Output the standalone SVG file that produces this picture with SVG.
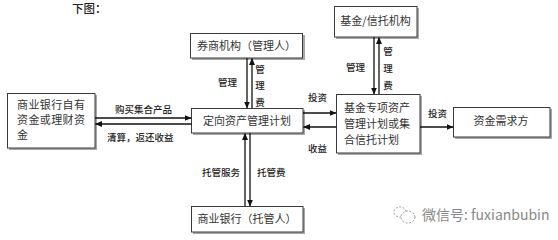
<svg xmlns="http://www.w3.org/2000/svg" width="558" height="240" viewBox="0 0 558 240">
<defs>
<style>
.sh{fill:#a8a8a8;}
.bx{fill:#fff;stroke:#3a3a3a;stroke-width:1;}
.t{font-family:"Noto Sans CJK SC","Liberation Sans",sans-serif;font-size:11px;fill:#333;}
.l{font-family:"Noto Sans CJK SC","Liberation Sans",sans-serif;font-size:9.5px;fill:#222;font-weight:500;}
.ln{stroke:#111;stroke-width:1.3;fill:none;marker-end:url(#ah);}
</style>
<marker id="ah" markerWidth="7" markerHeight="6" refX="6.5" refY="3" orient="auto" markerUnits="userSpaceOnUse">
<path d="M0,0 L7,3 L0,6 Z" fill="#111"/>
</marker>
</defs>
<rect width="558" height="240" fill="#fff"/>
<text x="72" y="13" font-family="Noto Sans CJK SC,sans-serif" font-size="11.5" font-weight="500" fill="#222">下图：</text>

<g id="node-broker">
<rect class="sh" x="192" y="35" width="113" height="25"/>
<rect class="bx" x="190.5" y="33.5" width="112" height="24.5"/>
<text class="t" x="246.5" y="50" text-anchor="middle">券商机构（管理人）</text>
</g>
<g id="node-fund-trust">
<rect class="sh" x="336" y="8" width="83" height="31"/>
<rect class="bx" x="334.5" y="6.5" width="82.5" height="30.5"/>
<text class="t" x="375.5" y="25" text-anchor="middle">基金/信托机构</text>
</g>
<g id="node-bank-funds">
<rect class="sh" x="9" y="95" width="88" height="55"/>
<rect class="bx" x="7.5" y="93.5" width="87.5" height="54.5"/>
<text class="t" x="17" y="109" letter-spacing="0.4">商业银行自有</text>
<text class="t" x="17" y="124" letter-spacing="0.4">资金或理财资</text>
<text class="t" x="17" y="139">金</text>
</g>
<g id="node-directed-plan">
<rect class="sh" x="193" y="110" width="112" height="25"/>
<rect class="bx" x="191.5" y="108.5" width="111.5" height="24.5"/>
<text class="t" x="247" y="125" text-anchor="middle">定向资产管理计划</text>
</g>
<g id="node-special-plan">
<rect class="sh" x="338" y="96" width="84" height="59"/>
<rect class="bx" x="336.5" y="94.5" width="83.5" height="58.5"/>
<text class="t" x="344" y="112">基金专项资产</text>
<text class="t" x="344" y="128">管理计划或集</text>
<text class="t" x="344" y="144">合信托计划</text>
</g>
<g id="node-demand">
<rect class="sh" x="455" y="109" width="97" height="30"/>
<rect class="bx" x="453.5" y="107.5" width="96.5" height="29.5"/>
<text class="t" x="501" y="125" text-anchor="middle">资金需求方</text>
</g>
<g id="node-custodian">
<rect class="sh" x="193" y="208" width="112" height="26"/>
<rect class="bx" x="191.5" y="206.5" width="111.5" height="25.5"/>
<text class="t" x="247" y="223" text-anchor="middle">商业银行（托管人）</text>
</g>

<g id="connectors">
<line class="ln" x1="247" y1="58" x2="247" y2="108"/>
<line class="ln" x1="252" y1="108" x2="252" y2="58.5"/>
<line class="ln" x1="374" y1="37" x2="374" y2="94"/>
<line class="ln" x1="379" y1="94" x2="379" y2="37.5"/>
<line class="ln" x1="95" y1="118" x2="191" y2="118"/>
<line class="ln" x1="191.5" y1="124" x2="95.5" y2="124"/>
<line class="ln" x1="303" y1="113" x2="336" y2="113"/>
<line class="ln" x1="336.5" y1="127" x2="303.5" y2="127"/>
<line class="ln" x1="420" y1="127" x2="453" y2="127"/>
<line class="ln" x1="245" y1="206" x2="245" y2="133.5"/>
<line class="ln" x1="250" y1="133" x2="250" y2="206"/>
</g>

<g id="labels">
<text class="l" x="218" y="85.5">管理</text>
<text class="l" x="260" y="72.5" text-anchor="middle">管<tspan x="260" y="89">理</tspan><tspan x="260" y="105.5">费</tspan></text>
<text class="l" x="346" y="70.5">管理</text>
<text class="l" x="388" y="54.5" text-anchor="middle">管<tspan x="388" y="71.5">理</tspan><tspan x="388" y="88.5">费</tspan></text>
<text class="l" x="115" y="113">购买集合产品</text>
<text class="l" x="107" y="140.5">清算，返还收益</text>
<text class="l" x="308" y="100.5">投资</text>
<text class="l" x="308" y="151.5">收益</text>
<text class="l" x="428" y="116.5">投资</text>
<text class="l" x="202" y="175.5">托管服务</text>
<text class="l" x="257" y="175.5">托管费</text>
</g>

<g id="watermark">
<ellipse cx="400" cy="212" rx="6" ry="5" fill="none" stroke="#999" stroke-width="1" stroke-dasharray="2 1.5"/>
<ellipse cx="408" cy="217" rx="7" ry="6" fill="#fff" stroke="#999" stroke-width="1" stroke-dasharray="2 1.5"/>
<text x="422" y="220" font-family="Noto Sans CJK SC,sans-serif" font-size="14" fill="#888">微信号: fuxianbubin</text>
</g>
</svg>
